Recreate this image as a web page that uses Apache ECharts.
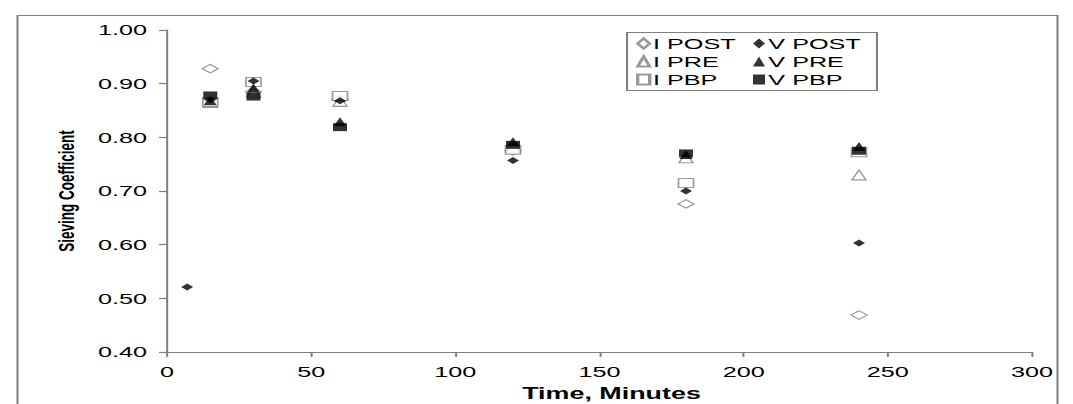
<!DOCTYPE html>
<html><head><meta charset="utf-8">
<script src="https://cdn.jsdelivr.net/npm/echarts@6/dist/echarts.min.js"></script>
<style>
html,body{margin:0;padding:0;background:#fff;overflow:hidden;width:1073px;height:404px}
#c{width:638.69px;height:404px;transform:scaleX(1.68);transform-origin:0 0}
</style>
</head><body><div id="c"></div>
<script>
const times = [7, 15, 30, 60, 120, 180, 240];
const iPost = [null, 0.928, 0.885, 0.870, 0.775, 0.676, 0.469];
const vPost = [0.521, 0.870, 0.905, 0.868, 0.757, 0.700, 0.603];
const iPre  = [null, 0.865, 0.884, 0.867, 0.780, 0.762, 0.730];
const vPre  = [null, 0.868, 0.892, 0.829, 0.792, 0.768, 0.783];
const iPbp  = [null, 0.866, 0.903, 0.877, 0.777, 0.715, 0.772];
const vPbp  = [null, 0.878, 0.876, 0.819, 0.786, 0.770, 0.775];
const xTicks = [0, 50, 100, 150, 200, 250, 300];
const yTicks = [0.40, 0.50, 0.60, 0.70, 0.80, 0.90, 1.00];

// the reference image is stretched horizontally; the page is drawn narrow and widened by CSS
const S = 1.68;
const X = v => v / S;

function pts(arr){ return times.map((t,i)=>arr[i]==null?null:[t,arr[i]]).filter(p=>p); }
const gray = '#7f7f7f';
const openStyle = {color:'#fff', borderColor:gray, borderWidth:1};
const fillStyle = {color:'#000'};
const series = [
  {name:'I POST', data:pts(iPost), symbol:'diamond', symbolSize:[X(16),8.5], itemStyle:openStyle},
  {name:'I PRE', data:pts(iPre), symbol:'triangle', symbolSize:[X(14),10], itemStyle:openStyle},
  {name:'I PBP', data:pts(iPbp), symbol:'rect', symbolSize:[X(15),9], itemStyle:openStyle},
  {name:'V POST', data:pts(vPost), symbol:'diamond', symbolSize:[X(12),7], itemStyle:fillStyle},
  {name:'V PRE', data:pts(vPre), symbol:'triangle', symbolSize:[X(13),9], itemStyle:fillStyle},
  {name:'V PBP', data:pts(vPbp), symbol:'rect', symbolSize:[X(14),8], itemStyle:fillStyle}
].map(s=>Object.assign({type:'scatter', z:s.itemStyle===fillStyle?3:2}, s));

const font = 'Liberation Sans, Arial, sans-serif';
const legendText = {fontFamily:font, fontSize:15, color:'#000', padding:[0,0,0,-3]};
const chart = echarts.init(document.getElementById('c'), null, {renderer:'svg', width:1073/S, height:404});
chart.setOption({
  animation:false,
  backgroundColor:'#fff',
  grid:{left:X(167), top:30, width:X(865), height:322, containLabel:false, outerBoundsMode:'none'},
  xAxis:{type:'value', min:xTicks[0], max:xTicks[xTicks.length-1], interval:50,
    name:'Time, Minutes', nameLocation:'middle', nameGap:34,
    nameTextStyle:{fontFamily:font, fontSize:16, fontWeight:'bold', color:'#000', padding:[0,0,0,X(24)]},
    axisLine:{show:true, lineStyle:{color:gray, width:1.2}},
    axisTick:{show:true, length:5, lineStyle:{color:gray, width:1.2}},
    axisLabel:{fontFamily:font, fontSize:15, color:'#000', margin:12},
    splitLine:{show:false}},
  yAxis:{type:'value', min:yTicks[0], max:yTicks[yTicks.length-1], interval:0.1,
    name:'Sieving Coefficient', nameLocation:'middle', nameGap:X(89), nameRotate:90,
    nameTextStyle:{fontFamily:font, fontSize:13.5, fontWeight:'bold', color:'#000'},
    axisLine:{show:true, lineStyle:{color:gray, width:1.2}},
    axisTick:{show:true, length:X(8), lineStyle:{color:gray, width:1.2}},
    axisLabel:{fontFamily:font, fontSize:15, color:'#000', margin:X(20), formatter:v=>v.toFixed(2)},
    splitLine:{show:false}},
  legend:[
    {data:['I POST','I PRE','I PBP'], orient:'vertical', left:X(636), top:36, padding:0, itemGap:3, itemWidth:X(12), itemHeight:10, textStyle:legendText},
    {data:['V POST','V PRE','V PBP'], orient:'vertical', left:X(753), top:36, padding:0, itemGap:3, itemWidth:X(12), itemHeight:10, textStyle:legendText}
  ],
  graphic:[
    {type:'rect', shape:{x:X(17.5), y:15.5, width:X(1040), height:400}, style:{fill:null, stroke:gray, lineWidth:1.2}, silent:true},
    {type:'rect', shape:{x:X(627), y:32.5, width:X(250), height:58}, style:{fill:'#fff', stroke:gray, lineWidth:1.2}, z:-1, silent:true}
  ],
  series:series
});
</script></body></html>
